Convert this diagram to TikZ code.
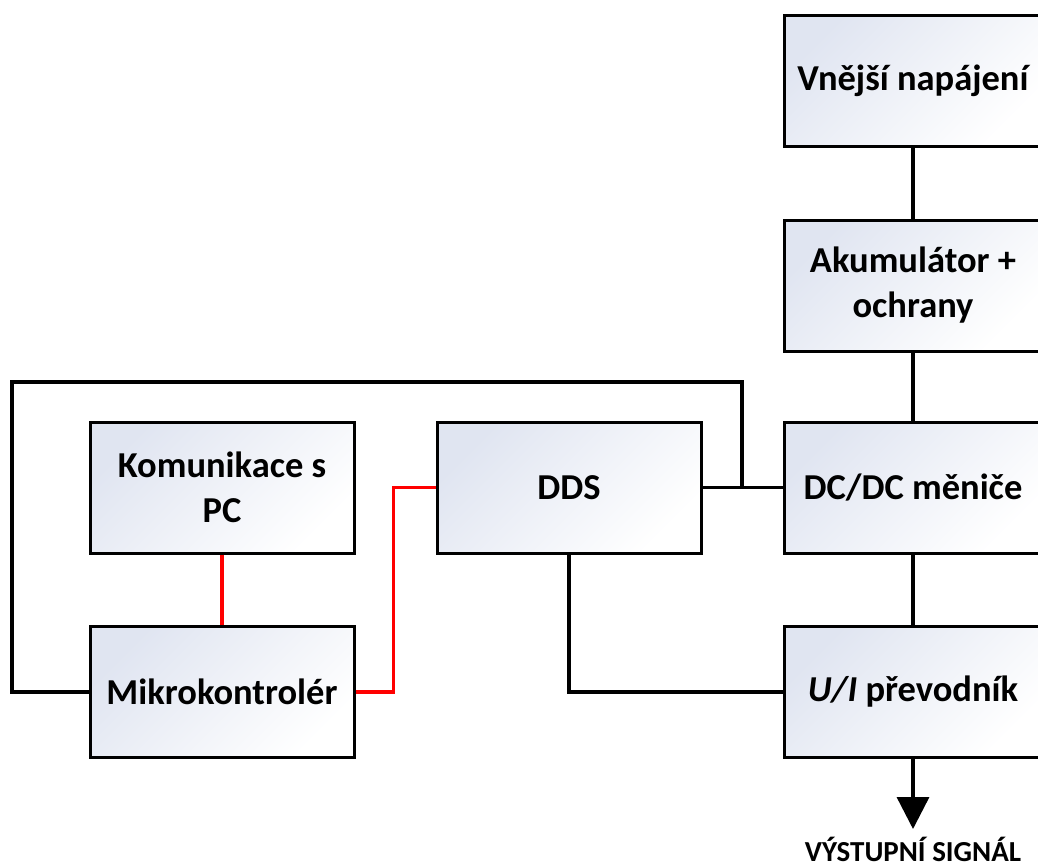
\documentclass[tikz,border=0pt]{standalone}
\usepackage{fontspec}
\setmainfont{Carlito}
\usetikzlibrary{arrows.meta}
\definecolor{boxblue}{RGB}{224,229,241}
\begin{document}
\begin{tikzpicture}[x=1pt,y=-1pt,
 blk/.style={draw=black, line width=3pt, top color=boxblue, bottom color=white, shading angle=45,
   minimum width=264pt, minimum height=131pt, inner sep=0pt, align=center,
   font=\fontsize{36.5}{45}\selectfont\bfseries},
 wire/.style={line width=3.4pt, draw=black},
 rwire/.style={line width=3.4pt, draw=red}]
\useasboundingbox (0,0) rectangle (1038,863);
\clip (0,0) rectangle (1038,863);
\node[blk, minimum width=258pt] (vn) at (913,80.5) {Vnější napájení};
\node[blk, minimum width=258pt] (ak) at (913,285.5) {Akumulátor +\\ochrany};
\node[blk, minimum width=258pt] (dc) at (913,487.5) {DC/DC měniče};
\node[blk, minimum width=258pt] (ui) at (913,692) {\textit{U/I} převodník};
\node[blk] (ko) at (222,487.5) {Komunikace s\\PC};
\node[blk] (mk) at (222,692) {Mikrokontrolér};
\node[blk] (dds) at (569,487.5) {DDS};
\node[font=\fontsize{29}{34}\selectfont\bfseries, anchor=base] (out) at (913,861) {VÝSTUPNÍ SIGNÁL};
\coordinate (j) at (742,487.5);
\coordinate (tl) at (12,382);
\coordinate (ae) at (913,829);
\draw[wire] (vn) -- (ak);
\draw[wire] (ak) -- (dc);
\draw[wire] (dc) -- (ui);
\draw[wire] (dds.east) -- (dc.west);
\draw[wire] (j) |- (tl) |- (mk.west);
\draw[wire] (dds.south) |- (ui.west);
\draw[rwire] (ko.south) -- (mk.north);
\draw[rwire] (mk.east) -- ++(38,0) |- (dds.west);
\draw[wire, -{Triangle[width=32pt,length=32pt]}] (ui.south) -- (ae);
\end{tikzpicture}
\end{document}
